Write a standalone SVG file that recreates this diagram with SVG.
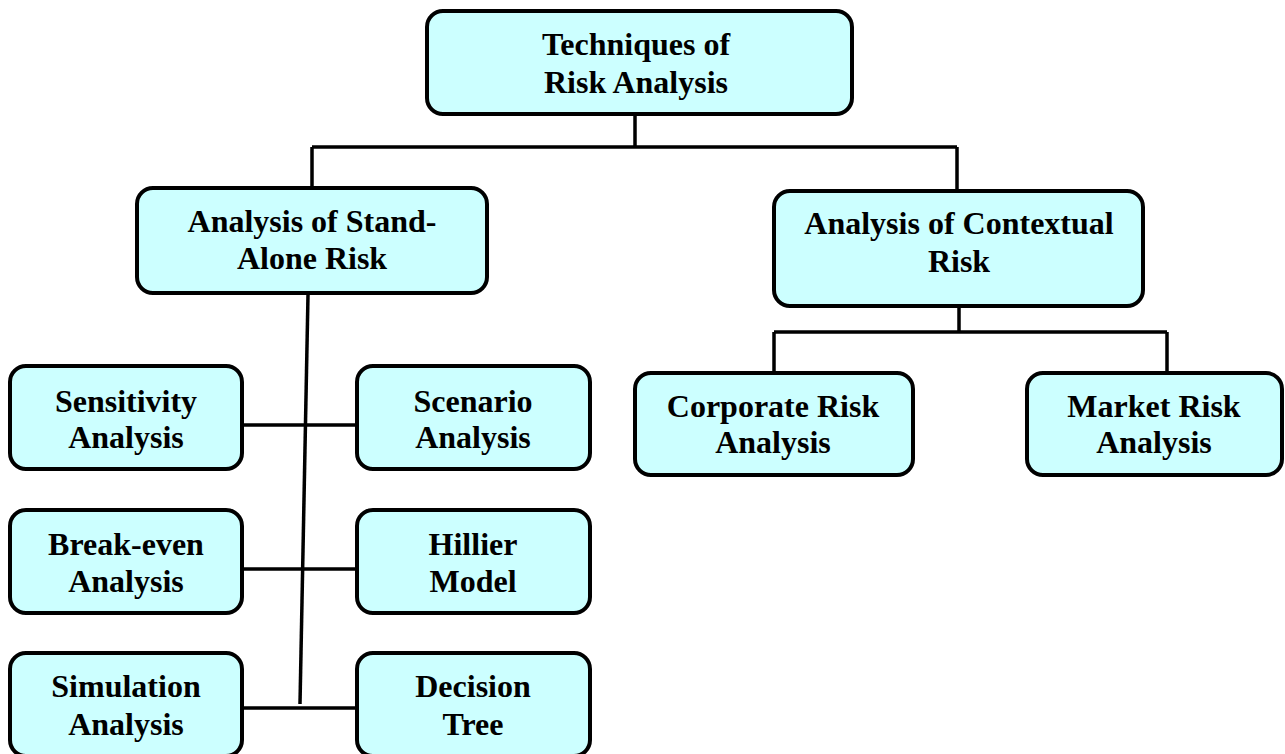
<svg xmlns="http://www.w3.org/2000/svg" width="1285" height="754" viewBox="0 0 1285 754">
  <style>
    .box { fill: #CCFFFF; stroke: #000000; stroke-width: 4; }
    .lbl { font-family: "Liberation Serif", "Times New Roman", serif; font-weight: bold; font-size: 32px; fill: #000000; text-anchor: middle; }
    .link { fill: none; stroke: #000000; stroke-width: 3.5; }
  </style>
  <rect width="1285" height="754" fill="#FFFFFF"/>

  <!-- tree connectors -->
  <g id="connectors">
    <path class="link" d="M635,116 V147 M312,147 H957 M312,147 V188 M957,147 V190"/>
    <path class="link" d="M308,295 L300,704"/>
    <path class="link" d="M242,425 H357 M242,569 H357 M242,708 H357"/>
    <path class="link" d="M959,307 V332 M774,332 H1167 M774,332 V372 M1167,332 V372"/>
  </g>

  <g id="techniques">
    <rect class="box" x="427" y="11" width="425" height="103" rx="16"/>
    <text class="lbl" x="636" y="55">Techniques of</text>
    <text class="lbl" x="636" y="93">Risk Analysis</text>
  </g>

  <g id="standalone">
    <rect class="box" x="137" y="188" width="350" height="105" rx="16"/>
    <text class="lbl" x="312" y="232">Analysis of Stand-</text>
    <text class="lbl" x="312" y="269">Alone Risk</text>
  </g>

  <g id="contextual">
    <rect class="box" x="774" y="191" width="369" height="115" rx="16"/>
    <text class="lbl" x="959" y="234">Analysis of Contextual</text>
    <text class="lbl" x="959" y="272">Risk</text>
  </g>

  <g id="sensitivity">
    <rect class="box" x="10" y="366" width="232" height="103" rx="16"/>
    <text class="lbl" x="126" y="412">Sensitivity</text>
    <text class="lbl" x="126" y="448">Analysis</text>
  </g>

  <g id="scenario">
    <rect class="box" x="357" y="366" width="233" height="103" rx="16"/>
    <text class="lbl" x="473" y="412">Scenario</text>
    <text class="lbl" x="473" y="448">Analysis</text>
  </g>

  <g id="breakeven">
    <rect class="box" x="10" y="510" width="232" height="103" rx="16"/>
    <text class="lbl" x="126" y="555">Break-even</text>
    <text class="lbl" x="126" y="592">Analysis</text>
  </g>

  <g id="hillier">
    <rect class="box" x="357" y="510" width="233" height="103" rx="16"/>
    <text class="lbl" x="473" y="555">Hillier</text>
    <text class="lbl" x="473" y="592">Model</text>
  </g>

  <g id="simulation">
    <rect class="box" x="10" y="653" width="232" height="103" rx="16"/>
    <text class="lbl" x="126" y="697">Simulation</text>
    <text class="lbl" x="126" y="735">Analysis</text>
  </g>

  <g id="decision">
    <rect class="box" x="357" y="653" width="233" height="103" rx="16"/>
    <text class="lbl" x="473" y="697">Decision</text>
    <text class="lbl" x="473" y="735">Tree</text>
  </g>

  <g id="corporate">
    <rect class="box" x="635" y="373" width="278" height="102" rx="16"/>
    <text class="lbl" x="773" y="417">Corporate Risk</text>
    <text class="lbl" x="773" y="453">Analysis</text>
  </g>

  <g id="market">
    <rect class="box" x="1027" y="373" width="255" height="102" rx="16"/>
    <text class="lbl" x="1154" y="417">Market Risk</text>
    <text class="lbl" x="1154" y="453">Analysis</text>
  </g>
</svg>
